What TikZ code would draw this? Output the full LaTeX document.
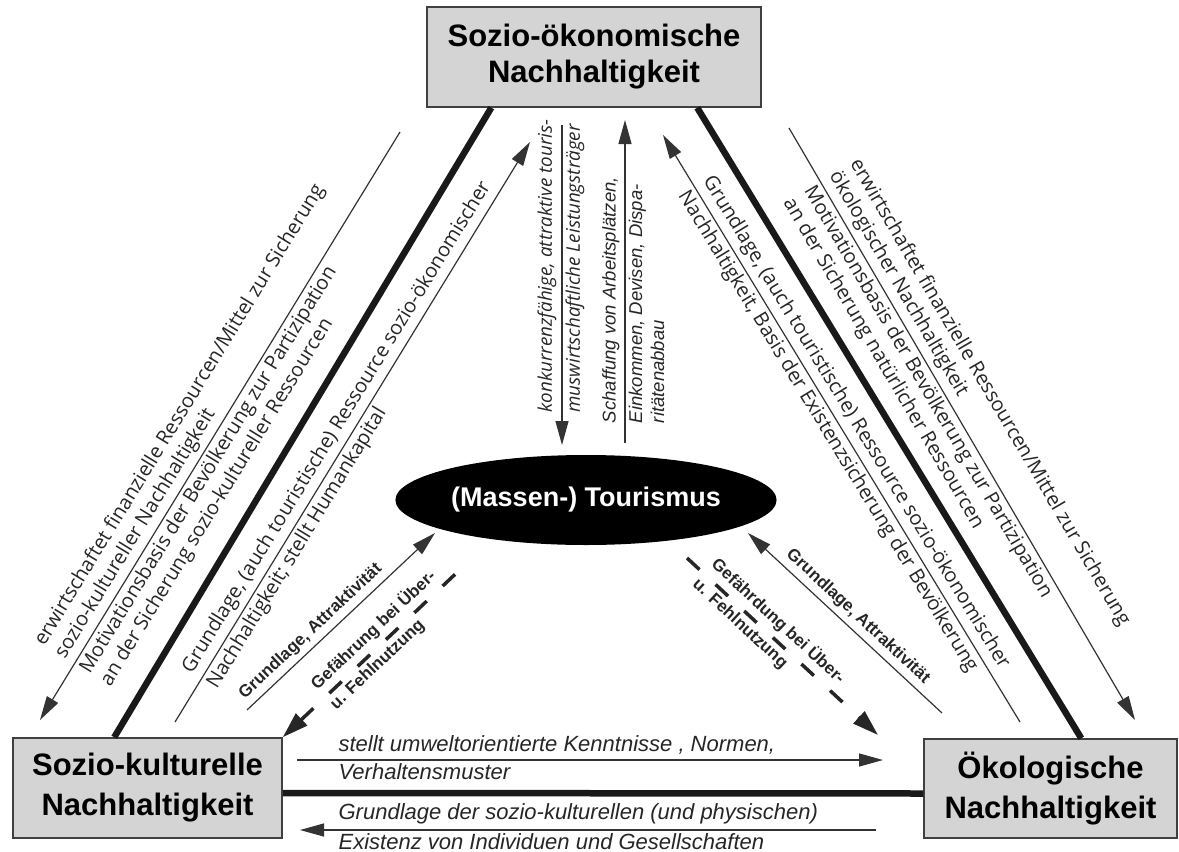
\documentclass[tikz,border=0pt]{standalone}
\usepackage{fontspec}
\setmainfont{Liberation Sans}
\newfontfamily\frutfont{Open Sans}
\usetikzlibrary{arrows.meta,shapes.geometric}

\begin{document}
\begin{tikzpicture}[x=1pt,y=-1pt,
    >={Triangle[length=24pt,width=13pt]},
    kasten/.style={draw=black!75, line width=1.5pt, fill=black!17, align=center, inner sep=0pt,
      font=\bfseries\fontsize{31}{40}\selectfont},
    achse/.style={line width=6.5pt, black!90},
    linie/.style={line width=1.2pt, black!80},
    gefahr/.style={line width=3.5pt, black!85, dash pattern=on 17pt off 22pt,
      >={Triangle[length=26pt,width=16pt]}},
    diag/.style={sloped, font=\frutfont\fontsize{20}{24}\selectfont, text=black!85, align=left, inner xsep=0pt},
    vert/.style={sloped, font=\itshape\fontsize{18.5}{22}\selectfont, text=black!85, align=left, inner xsep=0pt},
    horiz/.style={font=\itshape\fontsize{22}{27}\selectfont, text=black!85, align=left, inner xsep=0pt},
    fett/.style={sloped, font=\bfseries\fontsize{17}{20}\selectfont, text=black!85, inner xsep=0pt},
    oben/.style={anchor=south west, inner ysep=5pt},
    unten/.style={anchor=north west, inner ysep=3pt}]
  \useasboundingbox (0,0) rectangle (1179,852);

  % Dreieck der Nachhaltigkeit
  \node[kasten, minimum width=334pt, minimum height=100pt, font=\bfseries\fontsize{31}{36}\selectfont]
    (sozoek) at (594,57) {Sozio-ökonomische\\Nachhaltigkeit};
  \node[kasten, minimum width=269pt, minimum height=100pt] (sozkul) at (147.5,788) {Sozio-kulturelle\\Nachhaltigkeit};
  \node[kasten, minimum width=253pt, minimum height=99pt] (oekolog) at (1050.5,788.5) {Ökologische\\Nachhaltigkeit};
  \node[ellipse, fill=black, minimum width=314pt, minimum height=90pt, inner sep=0pt, text=white,
    font=\bfseries\fontsize{27}{30}\selectfont] (tour) at (586,500) {(Massen-) Tourismus};

  \draw[achse] ([xshift=65pt]sozoek.south west) -- ([xshift=102pt]sozkul.north west);
  \draw[achse] ([xshift=271pt]sozoek.south west) -- ([xshift=158pt]oekolog.north west);
  \draw[achse] ([yshift=-5pt]sozkul.east) -- ([yshift=-5pt]oekolog.west);

  \coordinate (lo1) at (40,720);   \coordinate (lo2) at (400,132);
  \coordinate (li1) at (175,722);  \coordinate (li2) at (530,142);
  \coordinate (ls1) at (247,710);  \coordinate (ls2) at (435,533);
  \coordinate (ld1) at (467,563);
  \coordinate (cd1) at (562,125);  \coordinate (cd2) at (562,445);
  \coordinate (cu1) at (625,443);  \coordinate (cu2) at (625,120);
  \coordinate (ro1) at (789,128);  \coordinate (ro2) at (1135,720);
  \coordinate (ri1) at (663,135);  \coordinate (ri2) at (1020,722);
  \coordinate (rs1) at (748,533);  \coordinate (rs2) at (942,713);
  \coordinate (rd1) at (687,558);  \coordinate (rd2) at (878,735);
  \coordinate (bu1) at (297,760);  \coordinate (bu2) at (883,760);
  \coordinate (bl1) at (300,830);  \coordinate (bl2) at (876,830);

  % linke Seite
  \draw[linie, <-] (lo1) -- (lo2)
    node[diag, oben, pos=.093] {erwirtschaftet finanzielle Ressourcen/Mittel zur Sicherung\\sozio-kultureller Nachhaltigkeit}
    node[diag, unten, pos=.093] {Motivationsbasis der Bevölkerung zur Partizipation\\an der Sicherung sozio-kultureller Ressourcen};
  \draw[linie, ->] (li1) -- (li2)
    node[diag, oben, pos=.072] {Grundlage, (auch touristische) Ressource sozio-ökonomischer}
    node[diag, unten, pos=.072] {Nachhaltigkeit; stellt Humankapital};
  \draw[linie, ->] (ls1) -- (ls2)
    node[fett, oben, pos=.02] {Grundlage, Attraktivität};
  \draw[gefahr, <-] (sozkul.north east) -- (ld1)
    node[fett, oben, pos=.22] {Gefährung bei Über-}
    node[fett, unten, pos=.22] {u. Fehlnutzung};

  % Mitte
  \draw[linie, <-] (cd2) -- (cd1)
    node[vert, oben, pos=.1, font=\frutfont\itshape\fontsize{18.8}{22}\selectfont] {konkurrenzfähige, attraktive touris-}
    node[vert, unten, pos=.1, font=\frutfont\itshape\fontsize{18.8}{22}\selectfont] {muswirtschaftliche Leistungsträger};
  \draw[linie, ->] (cu1) -- (cu2)
    node[vert, oben, pos=.06] {Schaffung von Arbeitsplätzen,}
    node[vert, unten, pos=.06] {Einkommen, Devisen, Dispa-\\ritätenabbau};

  % rechte Seite
  \draw[linie, ->] (ro1) -- (ro2)
    node[diag, oben, pos=.089] {erwirtschaftet finanzielle Ressourcen/Mittel zur Sicherung\\ökologischer Nachhaltigkeit}
    node[diag, unten, pos=.089] {Motivationsbasis der Bevölkerung zur Partizipation\\an der Sicherung natürlicher Ressourcen};
  \draw[linie, <-] (ri1) -- (ri2)
    node[diag, oben, pos=.086] {Grundlage, (auch touristische) Ressource sozio-ökonomischer}
    node[diag, unten, pos=.086] {Nachhaltigkeit, Basis der Existenzsicherung der Bevölkerung};
  \draw[linie, <-] (rs1) -- (rs2)
    node[fett, oben, pos=.16] {Grundlage, Attraktivität};
  \draw[gefahr, ->] (rd1) -- (rd2)
    node[fett, oben, pos=.08] {Gefährdung bei Über-}
    node[fett, unten, pos=.08] {u. Fehlnutzung};

  % unten
  \draw[linie, ->] (bu1) -- (bu2)
    node[horiz, oben, pos=.07] {stellt umweltorientierte Kenntnisse , Normen,}
    node[horiz, unten, pos=.07] {Verhaltensmuster};
  \draw[linie, <-] (bl1) -- (bl2)
    node[horiz, oben, pos=.066] {Grundlage der sozio-kulturellen (und physischen)}
    node[horiz, unten, pos=.066] {Existenz von Individuen und Gesellschaften};
\end{tikzpicture}
\end{document}
